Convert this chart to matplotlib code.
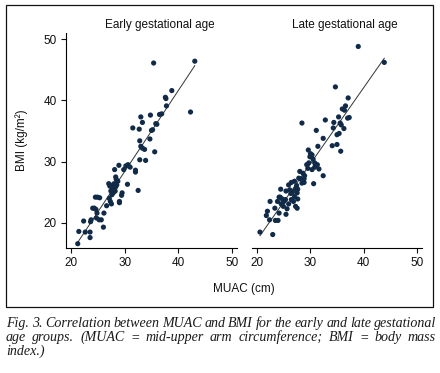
import numpy as np
import matplotlib
matplotlib.use("Agg")
import matplotlib.pyplot as plt
from matplotlib.patches import Rectangle

# Datos (MUAC en cm, BMI en kg/m2)
early_muac = [21.2, 21.4, 22.3, 22.6, 23.5, 23.5, 23.6, 23.7, 24.0, 24.3,
              24.5, 24.9, 25.3, 24.6, 24.7, 24.8, 25.2, 25.6, 26.0, 26.1,
              26.6, 27.3, 27.5, 27.1, 27.0, 27.2, 27.5, 27.7, 27.8, 28.1,
              28.0, 28.2, 28.4, 28.7, 28.5, 27.6, 28.1, 28.9, 29.0, 29.5,
              29.4, 29.8, 30.2, 30.6, 31.0, 30.5, 32.0, 32.0, 32.5, 32.8,
              33.0, 33.3, 32.8, 33.7, 33.9, 34.7, 35.0, 35.2, 34.8, 35.6,
              35.8, 36.0, 36.5, 36.9, 31.5, 32.7, 33.0, 33.3, 37.6, 37.7,
              37.8, 38.8, 35.4, 42.3, 43.1, 27.9, 28.0, 27.4, 28.3, 27.8,
              28.3, 29.0]
early_bmi = [16.6, 18.6, 20.3, 18.5, 17.6, 18.5, 20.2, 20.5, 22.4, 22.4,
             24.2, 24.2, 24.1, 22.2, 20.8, 21.6, 20.5, 20.5, 19.3, 21.6,
             22.8, 23.5, 23.1, 24.0, 26.4, 26.0, 26.0, 25.5, 24.9, 25.7,
             26.4, 25.2, 27.1, 26.8, 26.2, 24.6, 28.7, 29.4, 23.3, 24.9,
             24.5, 28.7, 29.3, 29.5, 29.1, 26.3, 28.6, 28.3, 25.3, 30.3,
             32.5, 32.2, 33.4, 32.0, 30.2, 33.7, 35.1, 35.2, 37.6, 31.6,
             36.2, 36.1, 37.7, 37.8, 35.5, 35.3, 37.3, 36.4, 40.5, 40.3,
             39.1, 41.6, 46.1, 38.1, 46.4, 25.0, 25.4, 25.2, 25.9, 26.2,
             27.5, 23.5]

late_muac = [20.5, 22.9, 21.7, 21.9, 22.4, 22.3, 23.4, 23.9, 23.3, 24.1,
             24.4, 24.3, 24.7, 25.0, 25.3, 24.5, 24.9, 25.4, 25.6, 25.9,
             26.3, 26.4, 25.9, 26.4, 26.8, 27.0, 27.2, 27.4, 27.6, 27.2,
             27.5, 28.4, 28.8, 28.6, 29.5, 29.7, 29.3, 29.6, 30.0, 30.5,
             30.8, 30.3, 30.8, 31.6, 30.6, 32.4, 28.4, 31.1, 31.4, 32.4,
             32.8, 34.3, 34.4, 34.7, 35.0, 35.4, 34.1, 35.0, 35.7, 35.6,
             35.3, 36.3, 37.0, 37.3, 36.4, 36.0, 36.6, 37.1, 39.0, 43.9,
             35.8, 28.8, 28.9, 28.1, 28.0, 25.4, 23.8, 24.1, 26.1, 26.6,
             27.5, 27.0, 27.8, 27.6, 29.9, 30.3, 31.3]
late_bmi = [18.5, 18.1, 21.2, 21.9, 23.5, 20.5, 20.4, 20.4, 22.4, 21.6,
            25.5, 24.2, 23.9, 23.5, 23.8, 23.1, 22.7, 21.4, 22.3, 23.1,
            24.8, 26.6, 26.2, 23.8, 23.5, 24.3, 25.5, 26.1, 23.9, 22.7,
            22.4, 26.5, 27.2, 28.1, 28.9, 29.8, 29.5, 31.9, 31.3, 30.4,
            29.8, 28.7, 29.1, 28.8, 26.4, 27.7, 36.3, 35.1, 32.5, 33.8,
            36.8, 35.5, 36.4, 42.2, 34.4, 34.6, 32.6, 32.8, 31.7, 36.3,
            37.3, 35.4, 37.1, 37.2, 38.4, 38.6, 39.1, 40.4, 48.8, 46.2,
            36.0, 26.6, 27.7, 27.2, 28.4, 25.2, 23.5, 24.2, 25.4, 25.0,
            24.9, 26.8, 27.3, 25.5, 30.8, 31.1, 29.5]

titles = ["Early gestational age", "Late gestational age"]
xticks = [20, 30, 40, 50]
yticks = [20, 30, 40, 50]
caption = ["Fig. 3. Correlation between MUAC and BMI for the early and late gestational",
           "age groups. (MUAC = mid-upper arm circumference; BMI = body mass",
           "index.)"]

W, H = 440, 373
plt.rcParams['font.family'] = ['Liberation Sans', 'DejaVu Sans']
fig = plt.figure(figsize=(W / 100, H / 100), dpi=100)

def fx(px):
    return px / W

def fy(py):
    return 1 - py / H

NAVY = "#102a48"
axes_px = [(66, 237), (252, 422)]
top_px, bot_px = 33, 248

series = [(early_muac, early_bmi), (late_muac, late_bmi)]
for i, ((x, y), (l, r)) in enumerate(zip(series, axes_px)):
    ax = fig.add_axes([fx(l), fy(bot_px), (r - l) / W, (bot_px - top_px) / H])
    x = np.array(x)
    y = np.array(y)
    ax.scatter(x, y, s=14, color=NAVY, edgecolors="none", zorder=3)
    # recta de regresión
    b, a = np.polyfit(x, y, 1)
    xx = np.array([x.min(), x.max()])
    ax.plot(xx, a + b * xx, color="#333333", lw=0.7, zorder=2)
    ax.set_xlim(19, 51)
    ax.set_ylim(15.9, 51)
    ax.set_xticks(xticks)
    ax.set_yticks(yticks)
    for s in ["top", "right"]:
        ax.spines[s].set_visible(False)
    ax.spines["bottom"].set_linewidth(0.8)
    ax.spines["left"].set_linewidth(0.8)
    ax.tick_params(direction="out", length=3.5, width=0.8, labelsize=8.5,
                   colors="#111111", pad=3)
    if i == 1:
        ax.spines["left"].set_visible(False)
        ax.tick_params(axis="y", left=False, labelleft=False)

fig.text(fx(160), fy(25), titles[0], ha="center", va="center", fontsize=8.5, color="#111111")
fig.text(fx(345), fy(25), titles[1], ha="center", va="center", fontsize=8.5, color="#111111")
fig.text(fx(22), fy(140), "BMI (kg/m²)", rotation=90, ha="center", va="center",
         fontsize=8.5, color="#111111")
fig.text(fx(244), fy(289), "MUAC (cm)", ha="center", va="center", fontsize=8.5,
         color="#111111")

# marco exterior
fig.patches.append(Rectangle((fx(6), fy(307)), (433 - 6) / W, (307 - 5) / H,
                             transform=fig.transFigure, fill=False, lw=0.9,
                             edgecolor="#111111"))

# pie de figura justificado
cap_font = dict(family="Liberation Serif", style="italic", fontsize=10.1, color="#1a1a1a")
renderer = fig.canvas.get_renderer()
left_px, right_px = 6, 436
baselines = [327, 341, 355]
for k, (line, base) in enumerate(zip(caption, baselines)):
    if k == len(caption) - 1:
        fig.text(fx(left_px), fy(base), line, ha="left", va="baseline", **cap_font)
        continue
    words = line.split(" ")
    objs = [fig.text(0, fy(base), w, ha="left", va="baseline", **cap_font) for w in words]
    widths = [o.get_window_extent(renderer).width for o in objs]
    gap = (right_px - left_px - sum(widths)) / (len(words) - 1)
    pos = left_px
    for o, w in zip(objs, widths):
        o.set_x(fx(pos))
        pos += w + gap

fig.savefig("out.png", dpi=100)
